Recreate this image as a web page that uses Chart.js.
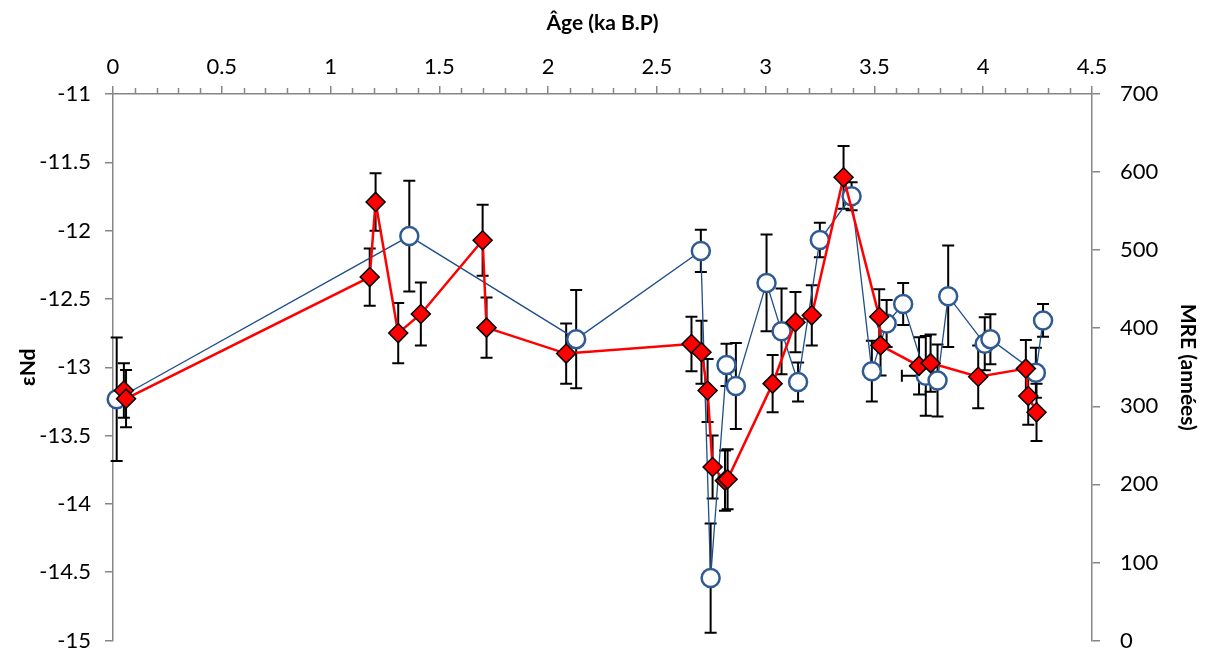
<!DOCTYPE html>
<html>
<head>
<meta charset="utf-8">
<script src="https://cdn.jsdelivr.net/npm/chart.js@4/dist/chart.umd.min.js"></script>
<style>
  body { margin: 0; background: #fff; }
  #wrap { width: 1206px; height: 652px; }
</style>
</head>
<body>
<div id="wrap"><canvas id="chart"></canvas></div>
<script>
// eNd, red diamonds (left axis)
const ndAge   = [0.05, 0.06, 1.18, 1.207, 1.311, 1.415, 1.699, 1.717, 2.083, 2.659, 2.705, 2.733, 2.756, 2.813, 2.825,
                 3.032, 3.137, 3.212, 3.358, 3.522, 3.528, 3.705, 3.758, 3.977, 4.196, 4.207, 4.245];
const ndValue = [-13.17, -13.23, -12.34, -11.79, -12.75, -12.61, -12.07, -12.71, -12.90, -12.83, -12.89, -13.17, -13.73, -13.83, -13.82,
                 -13.12, -12.67, -12.62, -11.61, -12.63, -12.84, -12.99, -12.97, -13.07, -13.01, -13.21, -13.33];
const ndErr   = [0.20, 0.21, 0.21, 0.21, 0.22, 0.23, 0.26, 0.22, 0.22, 0.20, 0.23, 0.23, 0.23, 0.22, 0.22,
                 0.21, 0.22, 0.22, 0.23, 0.20, 0.22, 0.21, 0.21, 0.23, 0.21, 0.21, 0.21];

// MRE, blue circles (right axis)
const mreAge    = [0.017, 1.362, 2.129, 2.702, 2.747, 2.820, 2.863, 3.004, 3.073, 3.149, 3.249,
                   3.395, 3.488, 3.556, 3.632, 3.736, 3.790, 3.839, 4.007, 4.033, 4.242, 4.275];
const mreValue  = [309, 518, 386, 499, 80, 353, 326, 458, 396, 331, 513,
                   569, 345, 406, 431, 339, 333, 441, 380, 386, 343, 410];
const mreErr    = [79, 71, 63, 27, 70, 27, 55, 62, 55, 25, 22,
                   18, 39, 30, 27, 51, 46, 65, 34, 32, 32, 21];
const mreAgeErr = [0, 0, 0, 0, 0, 0, 0, 0, 0, 0, 0,
                   0, 0, 0, 0, 0.11, 0, 0, 0, 0, 0, 0];

const ageTicks = [0, 0.5, 1, 1.5, 2, 2.5, 3, 3.5, 4, 4.5];
const ndTicks  = [-11, -11.5, -12, -12.5, -13, -13.5, -14, -14.5, -15];
const mreTicks = [0, 100, 200, 300, 400, 500, 600, 700];

const FONT = 'Lato, "Open Sans", sans-serif';
const AXIS = '#868686';

const ndPoints = ndAge.map((a, i) => ({ x: a, y: ndValue[i], err: ndErr[i] }));
const mrePoints = mreAge.map((a, i) => ({ x: a, y: mreValue[i], err: mreErr[i], xErr: mreAgeErr[i] }));

const errorBars = {
  id: 'errorBars',
  beforeDatasetsDraw(chart) {
    const ctx = chart.ctx;
    const xs = chart.scales.x;
    const cap = 6;
    ctx.save();
    ctx.strokeStyle = '#000';
    ctx.lineWidth = 2;
    chart.data.datasets.forEach(ds => {
      const ys = chart.scales[ds.yAxisID];
      ds.data.forEach(p => {
        const x = xs.getPixelForValue(p.x);
        const y = ys.getPixelForValue(p.y);
        const y0 = ys.getPixelForValue(p.y - p.err);
        const y1 = ys.getPixelForValue(p.y + p.err);
        ctx.beginPath();
        ctx.moveTo(x, y0); ctx.lineTo(x, y1);
        ctx.moveTo(x - cap, y0); ctx.lineTo(x + cap, y0);
        ctx.moveTo(x - cap, y1); ctx.lineTo(x + cap, y1);
        if (p.xErr) {
          const xl = xs.getPixelForValue(p.x - p.xErr);
          ctx.moveTo(xl, y); ctx.lineTo(x, y);
          ctx.moveTo(xl, y - cap); ctx.lineTo(xl, y + cap);
        }
        ctx.stroke();
      });
    });
    ctx.restore();
  }
};

// minor ticks every 0.1 ka on the top axis
const minorTicks = {
  id: 'minorTicks',
  afterDraw(chart) {
    const ctx = chart.ctx;
    const xs = chart.scales.x;
    const top = chart.chartArea.top;
    ctx.save();
    ctx.strokeStyle = AXIS;
    ctx.lineWidth = 1.5;
    ctx.beginPath();
    for (let i = 0; i <= 45; i++) {
      if (i % 5 === 0) continue;
      const x = Math.round(xs.getPixelForValue(i / 10)) + 0.5;
      ctx.moveTo(x, top);
      ctx.lineTo(x, top - 6);
    }
    ctx.stroke();
    ctx.restore();
  }
};

const plain = v => String(v);
const tickFont = { family: FONT, size: 22 };
const titleFont = { family: FONT, size: 21, weight: 'bold' };

new Chart(document.getElementById('chart'), {
  type: 'scatter',
  data: {
    datasets: [
      {
        label: 'εNd',
        data: ndPoints,
        yAxisID: 'y',
        showLine: true,
        borderColor: '#ff0000',
        borderWidth: 2.5,
        pointStyle: 'rectRot',
        pointRadius: 9.5,
        pointBackgroundColor: '#ff0000',
        pointBorderColor: '#000',
        pointBorderWidth: 1.5,
        clip: false
      },
      {
        label: 'MRE',
        data: mrePoints,
        yAxisID: 'y2',
        showLine: true,
        borderColor: '#1f4e8c',
        borderWidth: 1.3,
        pointStyle: 'circle',
        pointRadius: 9,
        pointBackgroundColor: '#fff',
        pointBorderColor: '#2f5a94',
        pointBorderWidth: 2.5,
        clip: false
      }
    ]
  },
  options: {
    responsive: true,
    maintainAspectRatio: false,
    animation: false,
    layout: { padding: { bottom: 10 } },
    plugins: { legend: { display: false }, tooltip: { enabled: false } },
    scales: {
      x: {
        type: 'linear',
        position: 'top',
        min: 0,
        max: 4.5,
        afterBuildTicks: s => { s.ticks = ageTicks.map(v => ({ value: v })); },
        afterFit: s => { s.height = 94; },
        grid: { drawOnChartArea: false, color: AXIS, lineWidth: 1.5, tickLength: 8 },
        border: { color: AXIS, width: 1.5 },
        ticks: { color: '#000', font: tickFont, padding: 6, maxRotation: 0, callback: plain },
        title: { display: true, text: 'Âge (ka B.P)', color: '#000', font: titleFont, padding: { top: 11, bottom: 0 } }
      },
      y: {
        type: 'linear',
        position: 'left',
        min: -15,
        max: -11,
        afterBuildTicks: s => { s.ticks = ndTicks.map(v => ({ value: v })); },
        afterFit: s => { s.width = 113; s.paddingTop = 0; s.paddingBottom = 0; },
        grid: { drawOnChartArea: false, color: AXIS, lineWidth: 1.5, tickLength: 8 },
        border: { color: AXIS, width: 1.5 },
        ticks: { color: '#000', font: tickFont, padding: 14, callback: plain },
        title: { display: true, text: 'εNd', color: '#000', font: titleFont, padding: { top: 16, bottom: 0 } }
      },
      y2: {
        type: 'linear',
        position: 'right',
        min: 0,
        max: 700,
        afterBuildTicks: s => { s.ticks = mreTicks.map(v => ({ value: v })); },
        afterFit: s => { s.width = 114; s.paddingTop = 0; s.paddingBottom = 0; },
        grid: { drawOnChartArea: false, color: AXIS, lineWidth: 1.5, tickLength: 8 },
        border: { color: AXIS, width: 1.5 },
        ticks: { color: '#000', font: tickFont, padding: 20, callback: plain },
        title: { display: true, text: 'MRE (années)', color: '#000', font: titleFont, padding: { top: 6, bottom: 0 } }
      }
    }
  },
  plugins: [errorBars, minorTicks]
});
</script>
</body>
</html>
